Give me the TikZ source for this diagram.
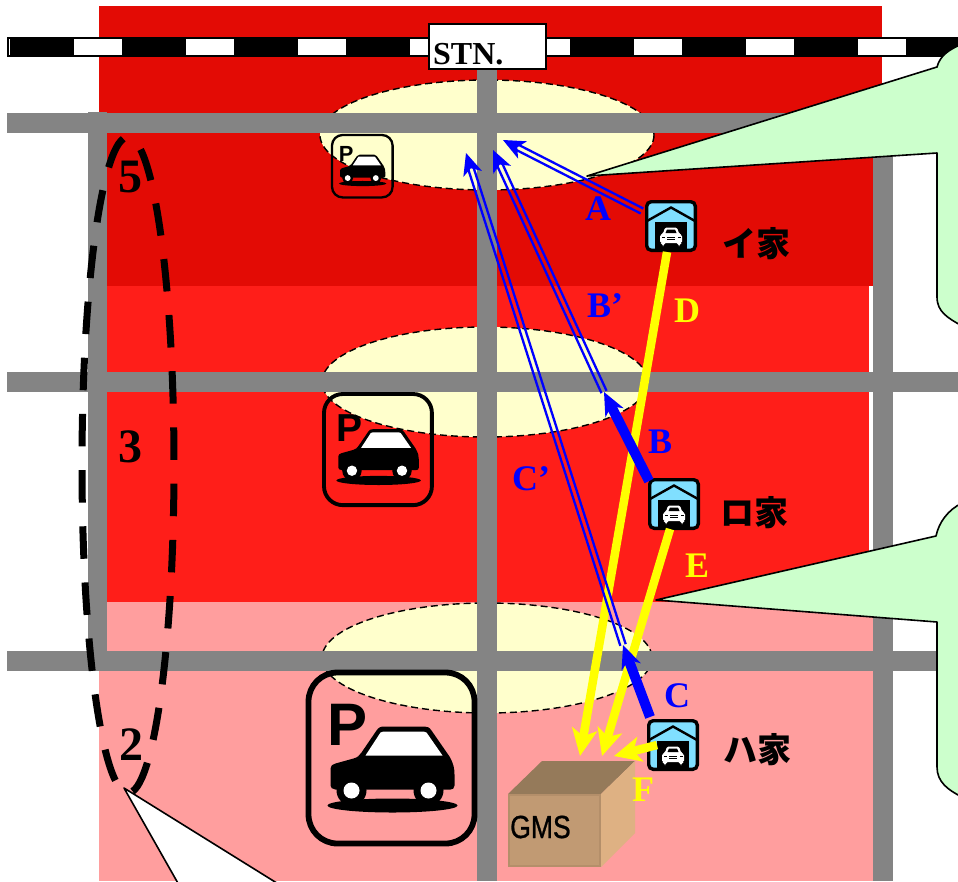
\documentclass[tikz,border=0pt]{standalone}
\usepackage{fontspec}
\setmainfont{Liberation Serif}
\setsansfont{Liberation Sans}
\newfontfamily\cjkfont{Noto Sans CJK JP}
\newfontfamily\gmsfont[FakeBold=1]{Liberation Sans}
\usetikzlibrary{calc,arrows.meta}
\definecolor{darkred}{HTML}{E30B05}
\definecolor{midred}{HTML}{FF1E19}
\definecolor{pinkred}{HTML}{FF9E9E}
\definecolor{roadgray}{HTML}{848484}
\definecolor{creamy}{HTML}{FFFFCC}
\definecolor{callgreen}{HTML}{CCFFCC}
\definecolor{houseblue}{HTML}{80DFFF}
\definecolor{arrowblue}{HTML}{0000FF}
\definecolor{arrowyellow}{HTML}{FFFF00}
\definecolor{boxfront}{HTML}{C19A73}
\definecolor{boxedge}{HTML}{B48F6A}
\definecolor{boxtop}{HTML}{957A5A}
\definecolor{boxside}{HTML}{DEB183}
\newcommand{\fsz}[1]{\fontsize{#1}{#1}\selectfont}
\tikzset{
  road/.style={fill=roadgray,draw=none},
  zone/.style={draw=none},
  zoneoval/.style={fill=creamy,draw=black,line width=1.4pt,dash pattern=on 7pt off 4pt},
  callout/.style={fill=callgreen,draw=black,line width=1.6pt,line join=round},
  bluehead/.style={-{Stealth[length=23pt,width=20pt,inset=7pt]},arrowblue},
  thinblue/.style={draw=arrowblue,line width=2.3pt},
  thickblue/.style={bluehead,line width=10pt},
  yellowarrow/.style={-{Stealth[length=27pt,width=25pt,inset=7pt]},arrowyellow,line width=8.5pt},
  letter/.style={font=\bfseries\fsz{36},inner sep=0pt},
  digit/.style={font=\bfseries\fsz{48},inner sep=0pt},
  housename/.style={font=\cjkfont\bfseries\fsz{34},inner sep=0pt,text=black},
}
% parking icon: #1 name, #2 x of left, #3 y of top, #4 scale relative to the large icon
\newcommand{\parkicon}[4]{%
  \pgfmathsetmacro{\pk}{#4}%
  \begin{scope}[shift={(#2,#3)},x=\pk pt,y=-\pk pt]
    \pgfmathsetmacro{\pkr}{29*\pk}%
    \pgfmathsetmacro{\pkw}{5.5*\pk+0.3}%
    \draw[black,line width=\pkw pt,rounded corners=\pkr pt] (0,0) rectangle (166,171);
    \fill[black] (84,133) ellipse[x radius=65,y radius=7];
    \fill[black] (22,96) .. controls (22,93) and (24,92) .. (27,91)
      -- (45,86) .. controls (49,85) and (51,83) .. (53,80)
      -- (68,58) .. controls (70,55) and (72,54) .. (76,54)
      -- (116,54) .. controls (119,54) and (121,55) .. (123,58)
      -- (141,84) .. controls (145,91) and (146,96) .. (146,102)
      -- (146,113) .. controls (146,116) and (144,117) .. (142,117)
      -- (27,117) .. controls (24,117) and (22,115) .. (22,113) -- cycle;
    \fill[black] (43,118) circle[radius=15];
    \fill[black] (120,118) circle[radius=15];
    \fill[white] (43,118) circle[radius=8];
    \fill[white] (120,118) circle[radius=8];
    \fill[white] (57,83) -- (72,60) .. controls (73,59) and (74,59) .. (75,59) -- (115,59) .. controls (116,59) and (117,59) .. (118,60) -- (134,83) -- cycle;
    \pgfmathsetmacro{\pkf}{60*\pk}%
    \node[inner sep=0pt,anchor=center,font=\sffamily\bfseries\fontsize{\pkf}{\pkf}\selectfont] (#1) at (39,52) {P};
  \end{scope}}
% garage icon: #1 name, #2 left, #3 top
\newcommand{\houseicon}[3]{%
  \begin{scope}[shift={(#2,#3)},x=1pt,y=-1pt]
    \node[fill=houseblue,draw=black,line width=3.4pt,rounded corners=4.5pt,minimum width=48.6pt,minimum height=48.6pt,inner sep=0pt,anchor=center] (#1) at (26,26) {};
    \draw[black,line width=2.4pt,line join=miter] (2,21) -- (26,7.5) -- (50,21);
    \fill[black] (10,22) -- (42,22) -- (42,50) -- (10,50) -- cycle;
    \fill[white,rounded corners=1.5pt] (15,40) -- (15,35) -- (18,33.5) -- (20,27.5) -- (32,27.5) -- (34,33.5) -- (37,35) -- (37,43) -- (35,43) -- (35,46) -- (33,46) -- (33,43) -- (19,43) -- (19,46) -- (17,46) -- (17,43) -- (15,43) -- cycle;
    \fill[black] (20.5,33) -- (22,29.5) -- (30,29.5) -- (31.5,33) -- cycle;
    \fill[black] (22,36.5) rectangle (30,37.3);
    \fill[black] (22,39) rectangle (30,39.8);
    \fill[black] (16.5,36.5) rectangle (19.5,38);
    \fill[black] (32.5,36.5) rectangle (35.5,38);
  \end{scope}}
% hollow double connector between named coordinates
\newcommand{\doubleline}[2]{%
  \draw[thinblue] ($(#1)!2.8pt!90:(#2)$) -- ($(#2)!2.8pt!-90:(#1)$);
  \draw[thinblue] ($(#1)!2.8pt!-90:(#2)$) -- ($(#2)!2.8pt!90:(#1)$);}
% notched blue head at #1, pointing away from #2
\newcommand{\bluetip}[2]{%
  \fill[arrowblue] (#1) -- ($(#1)!24pt!24:(#2)$) -- ($(#1)!16pt!(#2)$) -- ($(#1)!24pt!-24:(#2)$) -- cycle;}
\begin{document}
\begin{tikzpicture}[x=1pt,y=-1pt]
\useasboundingbox (0,0) rectangle (958,881);
\fill[white] (0,0) rectangle (958,881);
% colour zones
\fill[zone,darkred] (99,6) rectangle (882,133);
\fill[zone,darkred] (107,133) rectangle (873,286);
\fill[zone,midred] (107,286) rectangle (869,602);
\fill[zone,pinkred] (107,602) rectangle (873,651);
\fill[zone,pinkred] (99,651) rectangle (873,881);
% ovals
\draw[zoneoval] (487,135) ellipse[x radius=167,y radius=55];
\draw[zoneoval] (485,382) ellipse[x radius=163,y radius=55];
\draw[zoneoval] (487,658) ellipse[x radius=165,y radius=55];
% roads
\fill[road] (7,113) rectangle (958,133);
\fill[road] (7,372) rectangle (958,392);
\fill[road] (7,651) rectangle (958,671);
\fill[road] (88,112) rectangle (107,671);
\fill[road] (477,60) rectangle (497,881);
\fill[road] (873,133) rectangle (893,881);
% railway
\fill[white] (8,38) rectangle (958,56);
\foreach \rx in {10,122,234,346,570,682,794,906}{
  \pgfmathsetmacro{\rxe}{min(\rx+64,958)}
  \fill[black] (\rx,38) rectangle (\rxe,56);
}
\draw[black,line width=1.8pt] (960,56) -- (8,56) -- (8,38) -- (960,38);
% station
\node[draw=black,fill=white,line width=2pt,minimum width=117pt,minimum height=45pt,inner sep=0pt] (stn) at (487,46) {};
\node[font=\bfseries\fsz{32},inner sep=0pt,anchor=west] (stnlabel) at (433,54) {STN.};
% callouts
\draw[callout] (587,176) -- (937,67) .. controls (940,56) and (948,50) .. (962,44) -- (962,326)
   .. controls (948,318) and (937,312) .. (937,297) -- (937,153) -- cycle;
\draw[callout] (656,600) -- (936,536) .. controls (939,522) and (948,510) .. (962,503) -- (962,797)
   .. controls (948,790) and (937,782) .. (937,767) -- (937,622) -- cycle;
\draw[fill=white,draw=black,line width=1.6pt,line join=round] (124,788) -- (280,885) -- (179,885) -- cycle;
% parking icons
\parkicon{parkA}{332}{135}{0.365}
\parkicon{parkB}{324}{394}{0.65}
\parkicon{parkC}{308.5}{672.5}{1}
% GMS box
\fill[boxtop] (508,794) -- (542,761) -- (635,761) -- (601,794) -- cycle;
\fill[boxside] (601,794) -- (635,761) -- (635,833) -- (601,867) -- cycle;
\fill[boxedge] (508,794) rectangle (601,867);
\fill[boxfront] (510,796) rectangle (599,865);
\node[font=\gmsfont\fsz{32},inner sep=0pt,anchor=west] (gms) at (510,827) {\scalebox{0.83}[1]{GMS}};
% houses
\houseicon{ihouse}{645}{200}
\houseicon{rohouse}{648}{478}
\houseicon{hahouse}{647}{719}
% anchors of connectors
\coordinate (Astart) at (642,211);
\coordinate (Atip) at (503,140);
\coordinate (Atail) at ($(Atip)!16pt!(Astart)$);
\coordinate (Bstart) at (649,481);
\coordinate (Btip) at (604,392);
\coordinate (BPtip) at (493,150);
\coordinate (BPtail) at ($(BPtip)!16pt!(Btip)$);
\coordinate (Cstart) at (650,717);
\coordinate (Ctip) at (623,645);
\coordinate (CPtip) at (466,153);
\coordinate (CPtail) at ($(CPtip)!16pt!(Ctip)$);
\coordinate (Dstart) at (667,252);
\coordinate (Dtip) at (580,756);
\coordinate (Estart) at (670,529);
\coordinate (Etip) at (602,756);
\coordinate (Fstart) at (657,745);
\coordinate (Ftip) at (614,756);
% yellow arrows
\draw[yellowarrow] (Dstart) -- (Dtip);
\draw[yellowarrow] (Estart) -- (Etip);
\draw[yellowarrow] (Fstart) -- (Ftip);
% blue arrows
\doubleline{Astart}{Atail}
\bluetip{Atip}{Astart}
\draw[thickblue] (Bstart) -- (Btip);
\doubleline{Btip}{BPtail}
\bluetip{BPtip}{Btip}
\draw[thickblue] (Cstart) -- (Ctip);
\doubleline{Ctip}{CPtail}
\bluetip{CPtip}{Ctip}
% dashed ring
\draw[black,line width=7pt,dash pattern=on 32.5pt off 23.7pt,dash phase=37.5pt] (128,465) ellipse[x radius=46,y radius=328];
% labels
\node[letter,text=arrowblue] (labA) at (598,209) {A};
\node[letter,text=arrowblue] (labBp) at (605,306) {B’};
\node[letter,text=arrowblue] (labB) at (660,442) {B};
\node[letter,text=arrowblue] (labCp) at (531,479) {C’};
\node[letter,text=arrowblue] (labC) at (677,696) {C};
\node[letter,text=arrowyellow] (labD) at (687,311) {D};
\node[letter,text=arrowyellow] (labE) at (697,566) {E};
\node[letter,text=arrowyellow] (labF) at (643,790) {F};
\node[digit] (num5) at (130,177) {5};
\node[digit] (num3) at (130,447) {3};
\node[digit] (num2) at (131,745) {2};
\node[housename] (iname) at (756,244) {イ家};
\node[housename] (roname) at (754,513) {ロ家};
\node[housename] (haname) at (757,750) {ハ家};
\end{tikzpicture}
\end{document}
